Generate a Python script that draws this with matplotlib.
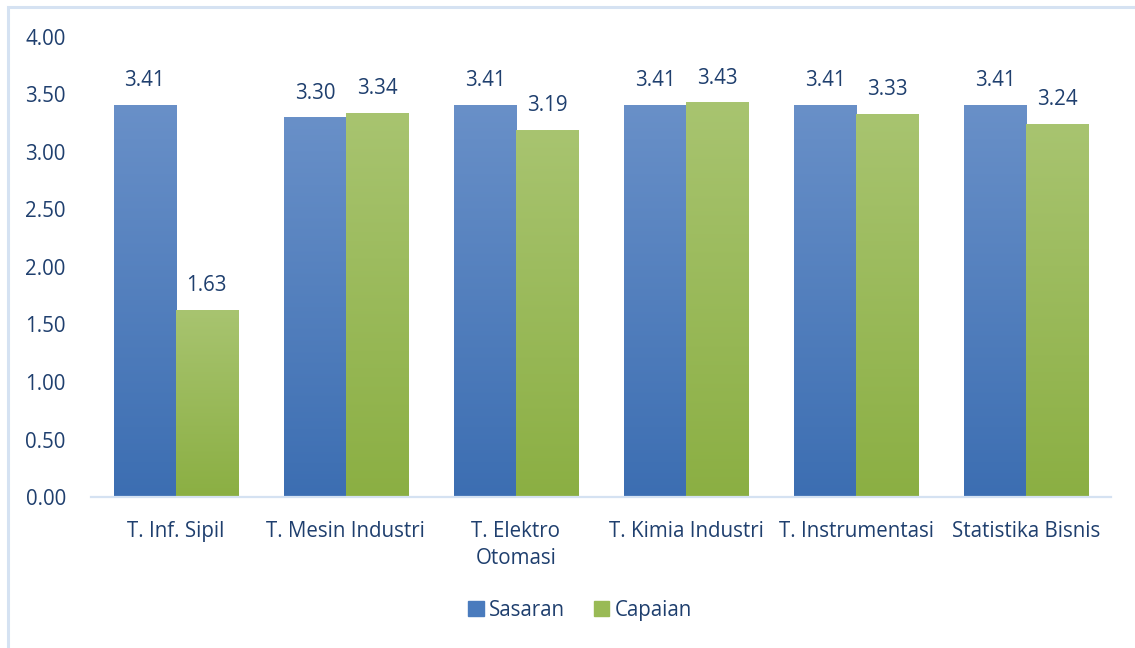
import numpy as np
import matplotlib.pyplot as plt
from matplotlib.patches import Rectangle, Patch

categories = ['T. Inf. Sipil', 'T. Mesin Industri', 'T. Elektro\nOtomasi',
              'T. Kimia Industri', 'T. Instrumentasi', 'Statistika Bisnis']
sasaran = [3.41, 3.30, 3.41, 3.41, 3.41, 3.41]
capaian = [1.63, 3.34, 3.19, 3.43, 3.33, 3.24]
yticks = [0.0, 0.5, 1.0, 1.5, 2.0, 2.5, 3.0, 3.5, 4.0]

txt = '#1F3F6E'
fs = 14.8
plt.rcParams['font.family'] = ['Open Sans', 'DejaVu Sans']

fig = plt.figure(figsize=(11.35, 6.48), dpi=100)
ax = fig.add_axes([0.080, 0.233, 0.899, 0.710])

x = np.arange(len(categories))
w = 0.365


def grad_bars(xs, vals, top, bottom):
    bars = ax.bar(xs, vals, w, color=bottom, zorder=2)
    cmap = np.linspace(0, 1, 256)[:, None]
    top = np.array(plt.matplotlib.colors.to_rgb(top))
    bottom = np.array(plt.matplotlib.colors.to_rgb(bottom))
    img = top[None, None, :] * (1 - cmap[:, :, None]) + bottom[None, None, :] * cmap[:, :, None]
    for b in bars:
        bx, by = b.get_x(), b.get_y()
        bw, bh = b.get_width(), b.get_height()
        im = ax.imshow(img, extent=[bx, bx + bw, by, by + bh], aspect='auto',
                       zorder=3, origin='upper')
        im.set_clip_path(b)
    return bars


grad_bars(x - w / 2, sasaran, '#6990C8', '#3C6EB2')
grad_bars(x + w / 2, capaian, '#A8C470', '#8BAF43')

for i in range(len(categories)):
    ax.annotate('%.2f' % sasaran[i], (x[i] - w / 2, sasaran[i]), xytext=(0, 10),
                textcoords='offset points', ha='center', va='bottom', color=txt, fontsize=fs)
    ax.annotate('%.2f' % capaian[i], (x[i] + w / 2, capaian[i]), xytext=(0, 10),
                textcoords='offset points', ha='center', va='bottom', color=txt, fontsize=fs)

ax.set_xlim(-0.5, len(categories) - 0.5)
ax.set_ylim(0, 4)
ax.set_yticks(yticks)
ax.set_yticklabels(['%.2f' % v for v in yticks])
ax.set_xticks(x)
ax.set_xticklabels(categories, linespacing=1.4)
ax.tick_params(length=0, colors=txt, labelsize=fs)
ax.tick_params(axis='y', pad=18)
ax.tick_params(axis='x', pad=17)
for s in ['top', 'right', 'left']:
    ax.spines[s].set_visible(False)
ax.spines['bottom'].set_color('#D5E2F2')
ax.spines['bottom'].set_linewidth(1.6)
ax.spines['bottom'].set_zorder(5)

handles = [Patch(color='#4A7BBD'), Patch(color='#99BA55')]
fig.legend(handles, ['Sasaran', 'Capaian'], loc='center', bbox_to_anchor=(0.511, 0.058),
           ncol=2, frameon=False, fontsize=fs, labelcolor=txt,
           handlelength=0.75, handleheight=0.75, handletextpad=0.25, columnspacing=1.4)

fig.patches.append(Rectangle((8 / 1135, -0.1), 1.2, 1 - 7 / 648 + 0.1, transform=fig.transFigure,
                             fill=False, edgecolor='#D5E2F2', linewidth=2.2))

fig.savefig('out.png', dpi=100)
